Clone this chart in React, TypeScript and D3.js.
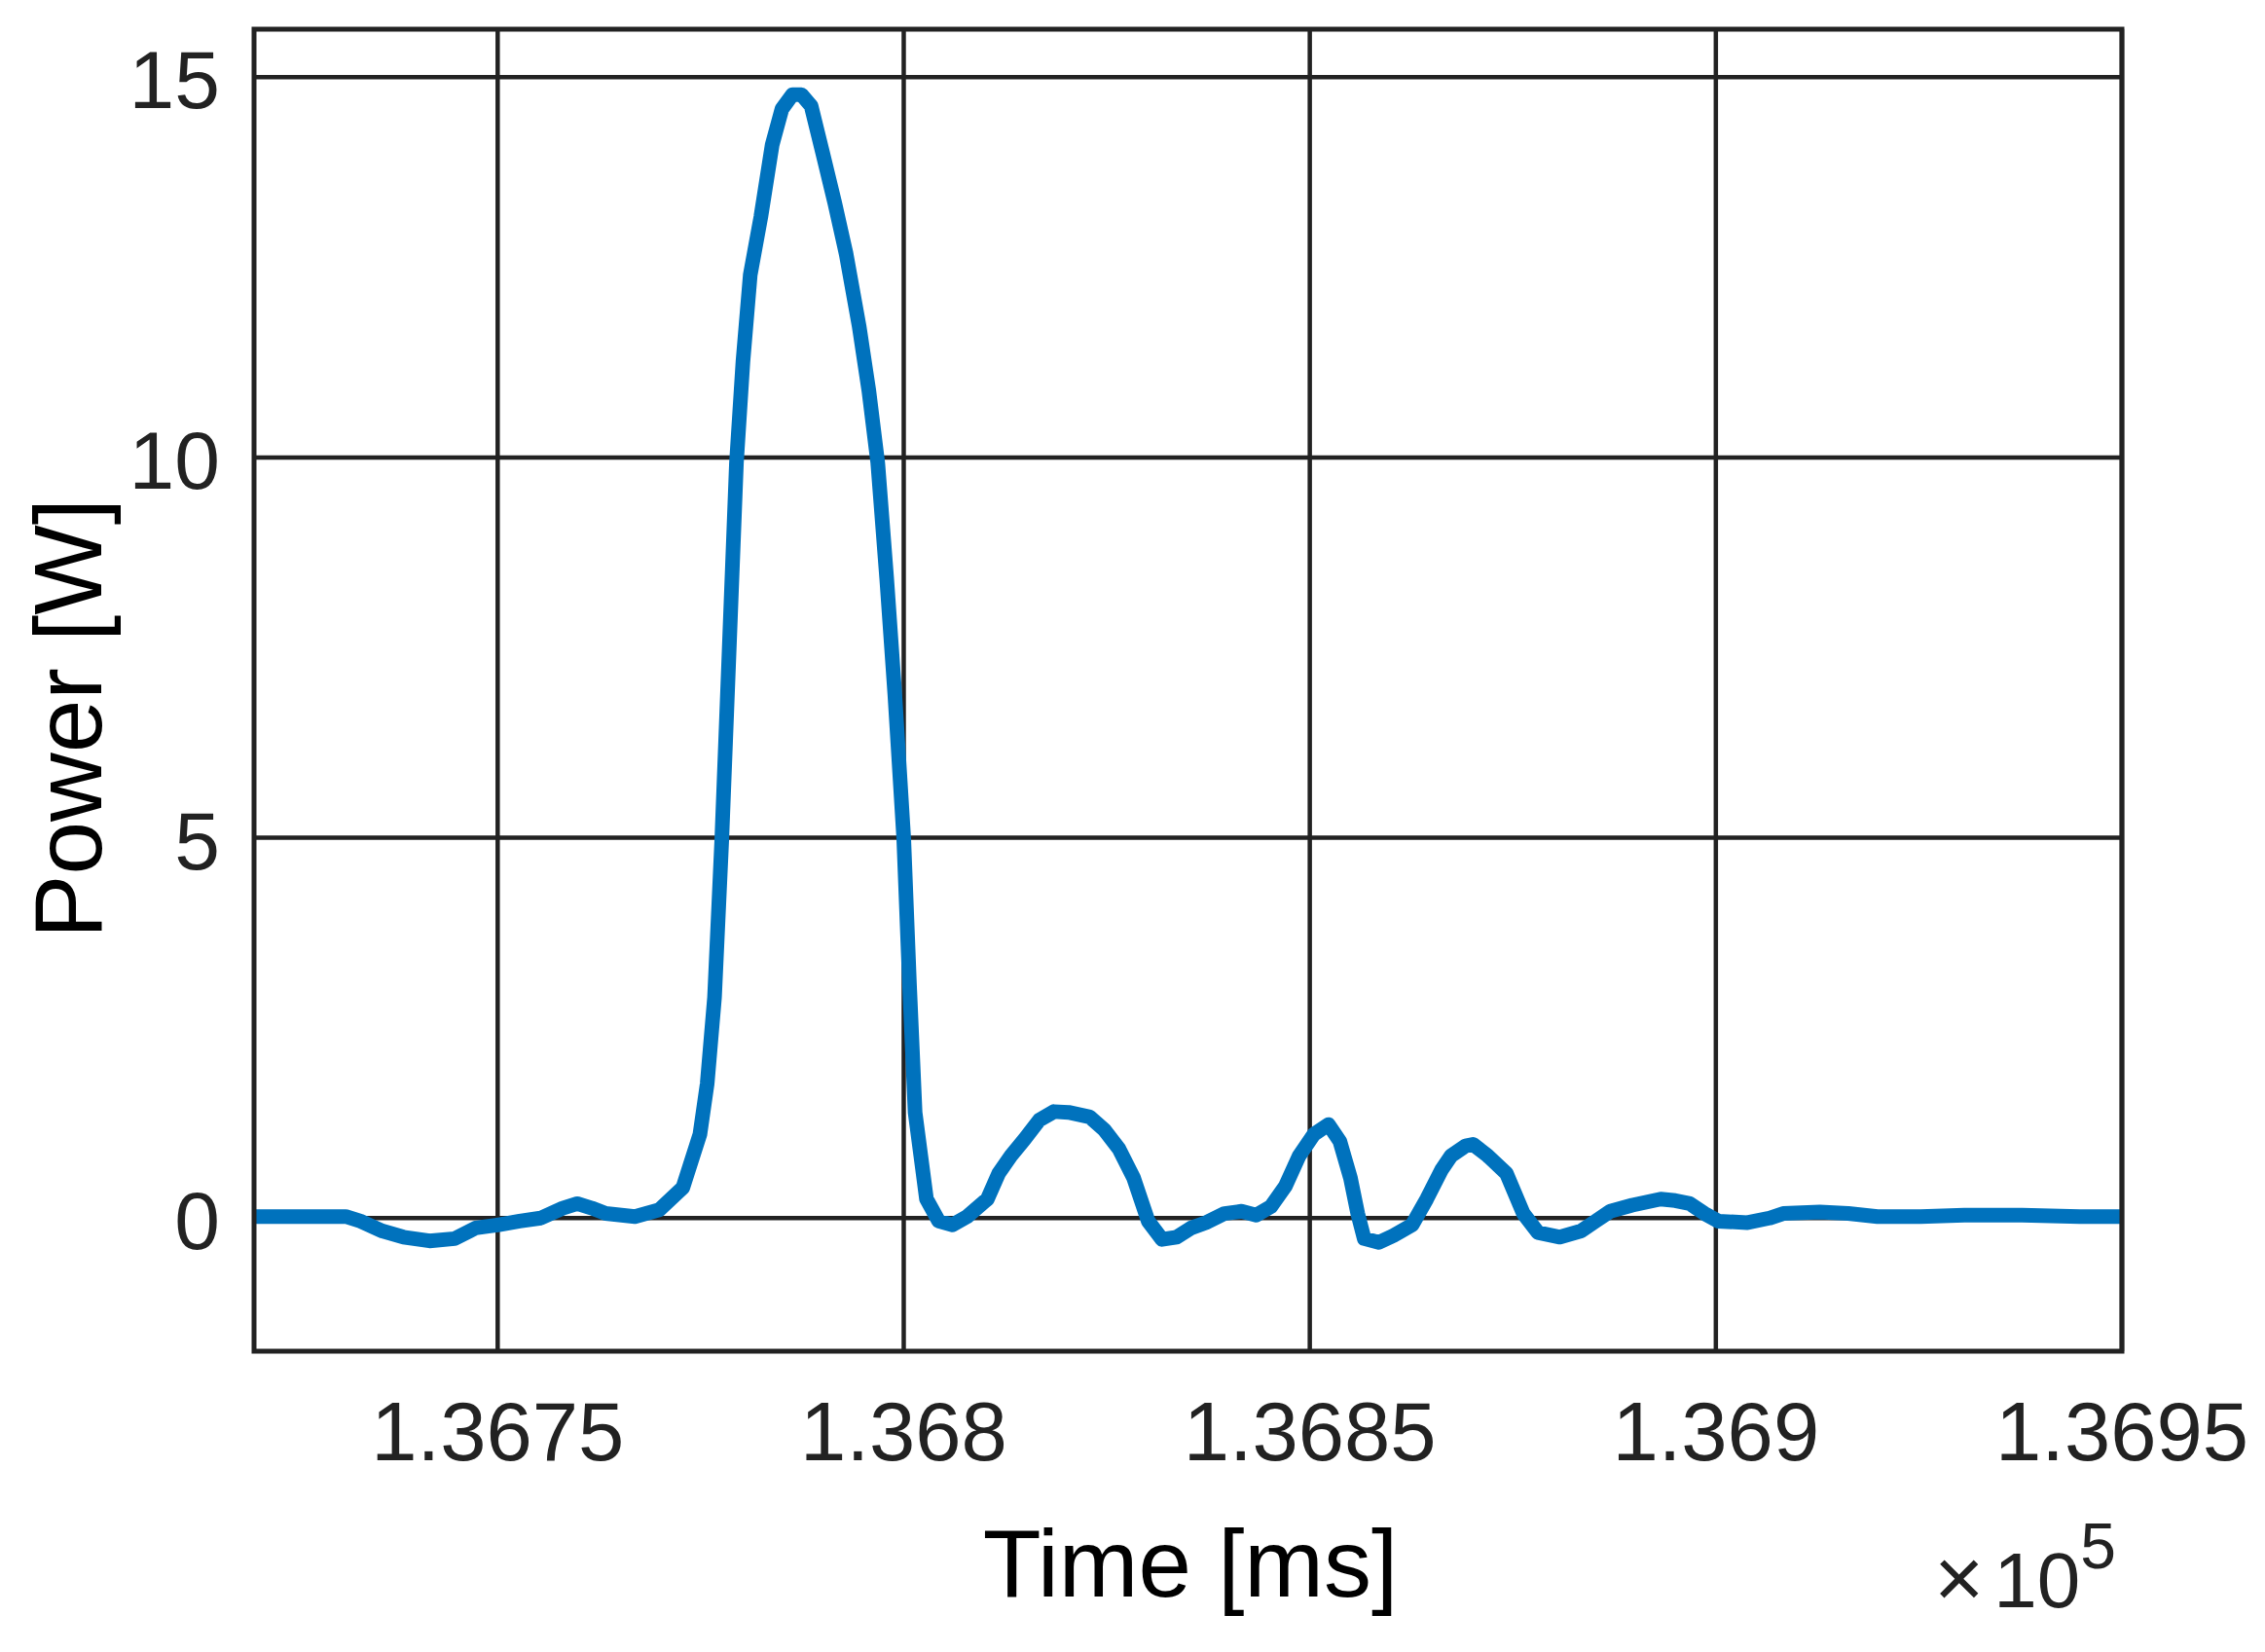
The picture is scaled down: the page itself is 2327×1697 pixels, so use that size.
import React from "react";
import * as d3 from "d3";

// Time in ms, power in W
const timeMs: number[] = [
  136720.0, 136731.3, 136733.1, 136735.8, 136738.4, 136741.6, 136744.7, 136747.3, 136750.0, 136752.7,
  136755.3, 136758.0, 136759.8, 136761.6, 136763.3, 136766.9, 136769.9, 136772.8, 136774.9, 136775.8,
  136776.7, 136777.6, 136778.5, 136779.4, 136780.2, 136781.1, 136782.4, 136783.8, 136785.0, 136786.3,
  136787.4, 136788.6, 136790.0, 136791.5, 136792.9, 136794.5, 136795.7, 136796.8, 136797.9, 136798.9,
  136800.0, 136800.7, 136801.4, 136802.1, 136802.8, 136804.3, 136806.0, 136807.8, 136810.3, 136811.7,
  136813.2, 136814.9, 136816.7, 136818.5, 136820.3, 136822.9, 136824.7, 136826.5, 136828.3, 136830.1,
  136831.8, 136833.6, 136835.4, 136837.2, 136839.5, 136841.6, 136843.4, 136845.2, 136847.0, 136848.7,
  136850.5, 136852.3, 136853.7, 136855.0, 136855.9, 136856.7, 136858.5, 136860.3, 136862.6, 136864.4,
  136866.2, 136867.4, 136869.2, 136870.1, 136871.9, 136874.2, 136876.3, 136878.1, 136880.8, 136883.4,
  136885.2, 136887.0, 136889.7, 136893.2, 136895.0, 136896.8, 136898.6, 136900.3, 136903.9, 136906.6,
  136908.3, 136912.8, 136916.3, 136919.9, 136925.2, 136930.6, 136937.7, 136944.8, 136950.0,
];
const powerW: number[] = [
  0.02, 0.02, -0.04, -0.17, -0.25, -0.30, -0.27, -0.13, -0.09, -0.04,
  0.0, 0.13, 0.19, 0.13, 0.06, 0.02, 0.11, 0.40, 1.10, 1.77,
  2.90, 4.99, 7.46, 9.93, 11.26, 12.40, 13.16, 14.11, 14.58, 14.77,
  14.77, 14.62, 14.01, 13.35, 12.68, 11.73, 10.88, 9.93, 8.41, 6.89,
  4.99, 3.09, 1.39, 0.82, 0.25, -0.04, -0.09, 0.02, 0.25, 0.59,
  0.82, 1.04, 1.29, 1.40, 1.39, 1.33, 1.16, 0.91, 0.53, -0.04,
  -0.28, -0.25, -0.13, -0.06, 0.06, 0.09, 0.04, 0.15, 0.42, 0.82,
  1.10, 1.23, 1.01, 0.53, 0.06, -0.27, -0.32, -0.23, -0.09, 0.25,
  0.63, 0.82, 0.95, 0.97, 0.82, 0.59, 0.06, -0.19, -0.25, -0.17,
  -0.04, 0.09, 0.17, 0.25, 0.23, 0.19, 0.06, -0.04, -0.06, 0.0,
  0.06, 0.08, 0.06, 0.02, 0.02, 0.04, 0.04, 0.02, 0.02,
];

const xTicks: number[] = [136750, 136800, 136850, 136900, 136950];
const xTickLabels: string[] = ["1.3675", "1.368", "1.3685", "1.369", "1.3695"];
const yTicks: number[] = [0, 5, 10, 15];
const yTickLabels: string[] = ["0", "5", "10", "15"];
const xDomain: number[] = [136720, 136950];
const yDomain: number[] = [-1.75, 15.63];

const W = 2327;
const H = 1697;
const L = 261, R = 2180, T = 30, B = 1388;
const FONT = "'Liberation Sans', Arial, Helvetica, sans-serif";
const INK = "#222222";

export default function App() {
  const x = d3.scaleLinear().domain(xDomain).range([L, R]);
  const y = d3.scaleLinear().domain(yDomain).range([B, T]);
  const pts = timeMs.map((t, i) => [t, powerW[i]] as [number, number]);
  const line = d3
    .line<[number, number]>()
    .x((d) => x(d[0]))
    .y((d) => y(d[1]))
    .curve(d3.curveLinear);

  return (
    <svg
      width={W}
      height={H}
      viewBox={`0 0 ${W} ${H}`}
      style={{ position: "absolute", left: 0, top: 0, background: "#fff" }}
    >
      <rect x={0} y={0} width={W} height={H} fill="#fff" />
      {/* grid */}
      {xTicks.map((t) => (
        <line key={"gx" + t} x1={x(t)} x2={x(t)} y1={T} y2={B} stroke={INK} strokeWidth={4.5} />
      ))}
      {yTicks.map((t) => (
        <line key={"gy" + t} x1={L} x2={R} y1={y(t)} y2={y(t)} stroke={INK} strokeWidth={4.5} />
      ))}
      {/* data */}
      <path
        d={line(pts) || ""}
        fill="none"
        stroke="#0072BD"
        strokeWidth={15}
        strokeLinejoin="round"
        strokeLinecap="butt"
      />
      {/* frame */}
      <rect x={L} y={T} width={R - L} height={B - T} fill="none" stroke={INK} strokeWidth={5} />
      {/* x tick labels */}
      {xTicks.map((t, i) => (
        <text
          key={"xl" + t}
          x={x(t)}
          y={1500}
          textAnchor="middle"
          fontFamily={FONT}
          fontSize={85}
          fill={INK}
        >
          {xTickLabels[i]}
        </text>
      ))}
      {/* y tick labels */}
      {yTicks.map((t, i) => (
        <text
          key={"yl" + t}
          x={226}
          y={y(t) + 32}
          textAnchor="end"
          fontFamily={FONT}
          fontSize={84}
          fill={INK}
        >
          {yTickLabels[i]}
        </text>
      ))}
      {/* axis labels */}
      <text
        x={1223}
        y={1640}
        textAnchor="middle"
        fontFamily={FONT}
        fontSize={98}
        fill="#000"
      >
        Time [ms]
      </text>
      <text
        transform={`translate(104, 738) rotate(-90)`}
        textAnchor="middle"
        fontFamily={FONT}
        fontSize={98}
        fill="#000"
      >
        Power [W]
      </text>
      {/* exponent */}
      <text x={2174} y={1651} textAnchor="end" fontFamily={FONT} fontSize={80} fill={INK}>
        <tspan fontSize={88}>×</tspan>
        <tspan dx={10}>10</tspan>
        <tspan dy={-40} fontSize={66}>5</tspan>
      </text>
    </svg>
  );
}
